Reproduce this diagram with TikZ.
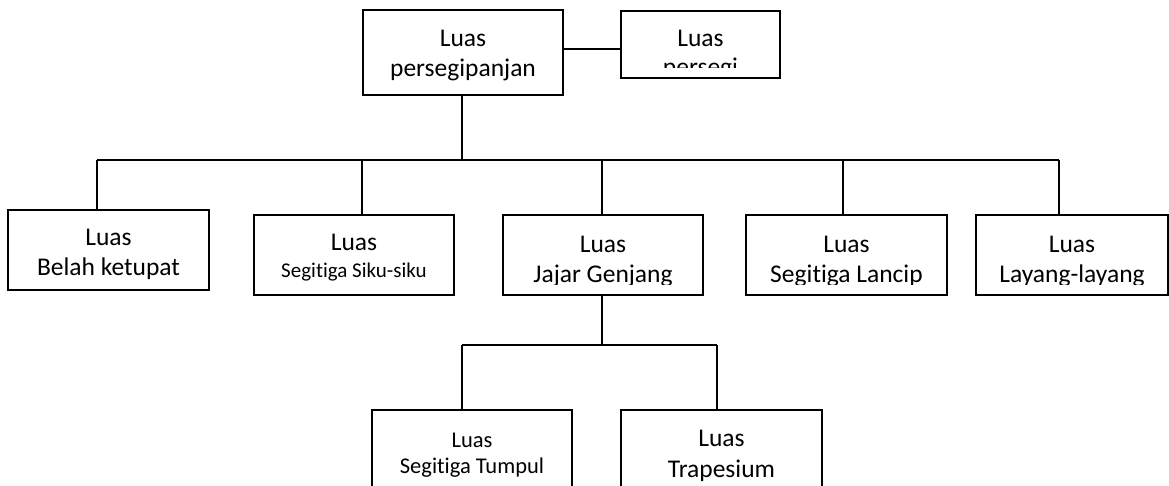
\documentclass[tikz,border=0pt]{standalone}
\usepackage{fontspec}
\setmainfont{Carlito}[Ligatures={NoCommon,NoRequired,NoContextual}]
\begin{document}
\begin{tikzpicture}[x=1pt,y=-1pt,
  box/.style={draw=black, line width=1.4pt, inner sep=0pt, fill=none},
  conn/.style={draw=black, line width=1.5pt},
  big/.style={anchor=base, inner sep=0pt, font=\fontsize{25.5}{30}\selectfont},
  small/.style={anchor=base, inner sep=0pt, font=\fontsize{21}{25}\selectfont},
  mid/.style={anchor=base, inner sep=0pt, font=\fontsize{22.5}{27}\selectfont}]
\useasboundingbox (0,0) rectangle (1169,486);
\clip (0,0) rectangle (1169,486);
\fill[white] (0,0) rectangle (1169,486);

% boxes
\node[box, minimum width=200pt, minimum height=85pt] (pp) at (463,52.5) {};
\node[box, minimum width=159pt, minimum height=67pt] (ps) at (700.5,44.5) {};
\node[box, minimum width=201pt, minimum height=80pt] (bk) at (108.5,250) {};
\node[box, minimum width=200pt, minimum height=80pt] (ss) at (354,255) {};
\node[box, minimum width=200pt, minimum height=80pt] (jg) at (603,255) {};
\node[box, minimum width=201pt, minimum height=80pt] (sl) at (846.5,255) {};
\node[box, minimum width=192pt, minimum height=80pt] (ll) at (1072,255) {};
\node[box, minimum width=200pt, minimum height=90pt] (st) at (472,455) {};
\node[box, minimum width=201pt, minimum height=90pt] (tr) at (721.5,455) {};

% texts
\node[big] (ppA) at (463,47) {Luas};
\node[big] (ppB) at (463,77) {persegipanjan};
\node[big] (psA) at (700.5,47) {Luas};
\begin{scope}
  \clip (621,11) rectangle (780,68);
  \node[big] (psB) at (700.5,76) {persegi};
\end{scope}
\node[big] (bkA) at (108.5,246) {Luas};
\node[big] (bkB) at (108.5,276) {Belah ketupat};
\node[big] (ssA) at (354,251) {Luas};
\node[small] (ssB) at (354,277) {Segitiga Siku-siku};
\node[big] (jgA) at (603,252) {Luas};
\begin{scope}
  \clip (503,215) rectangle (703,284);
  \node[big] (jgB) at (603,282) {Jajar Genjang};
\end{scope}
\node[big] (slA) at (846.5,252) {Luas};
\begin{scope}
  \clip (746,215) rectangle (947,284);
  \node[big] (slB) at (846.5,282) {Segitiga Lancip};
\end{scope}
\node[big] (llA) at (1072,252) {Luas};
\begin{scope}
  \clip (976,215) rectangle (1168,284);
  \node[big] (llB) at (1072,282) {Layang-layang};
\end{scope}
\node[mid] (stA) at (472,447) {Luas};
\node[mid] (stB) at (472,473) {Segitiga Tumpul};
\node[big] (trA) at (721.5,446) {Luas};
\node[big] (trB) at (721.5,477) {Trapesium};

% connectors
\draw[conn] ([yshift=3.5pt]pp.east) -- ([yshift=3.5pt]pp.east -| ps.west);

\coordinate (busL) at (97,160);
\coordinate (busR) at (1059,160);
\coordinate (j1) at (362,160);
\coordinate (j2) at (602,160);
\coordinate (j3) at (843,160);
\coordinate (j0) at (462,160);
\draw[conn] (j0 |- pp.south) -- (j0);
\draw[conn] (busL) -- (busR);
\draw[conn] (busL) -- (busL |- bk.north);
\draw[conn] (j1) -- (j1 |- ss.north);
\draw[conn] (j2) -- (j2 |- jg.north);
\draw[conn] (j3) -- (j3 |- sl.north);
\draw[conn] (busR) -- (busR |- ll.north);

\coordinate (b2L) at (462,345);
\coordinate (b2R) at (717,345);
\coordinate (b2M) at (602,345);
\draw[conn] (b2M |- jg.south) -- (b2M);
\draw[conn] (b2L) -- (b2R);
\draw[conn] (b2L) -- (b2L |- st.north);
\draw[conn] (b2R) -- (b2R |- tr.north);
\end{tikzpicture}
\end{document}
